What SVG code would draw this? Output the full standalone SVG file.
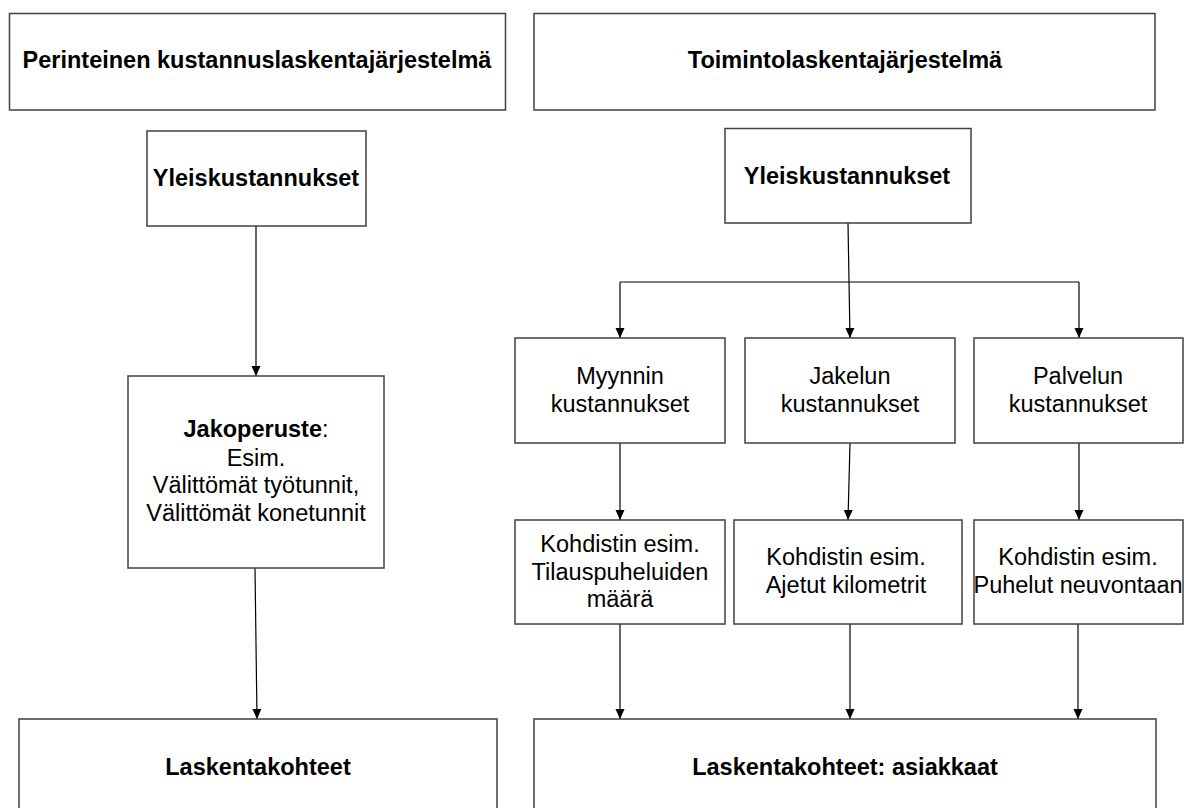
<svg xmlns="http://www.w3.org/2000/svg" width="1184" height="808" viewBox="0 0 1184 808">
<style>
  .box { fill: #ffffff; stroke: #404040; stroke-width: 1.5; }
  .t { font-family: "Liberation Sans", Arial, sans-serif; font-size: 23.5px; fill: #000; text-anchor: middle; }
  .b { font-weight: bold; }
  .c { fill: none; stroke: #000; stroke-width: 1.2; }
</style>
<defs>
  <marker id="arr" markerUnits="userSpaceOnUse" markerWidth="10" markerHeight="10" refX="10" refY="5" orient="auto">
    <path d="M0,0.5 L10,5 L0,9.5 z" fill="#000"/>
  </marker>
</defs>
<rect width="1184" height="808" fill="#ffffff"/>

<g id="connectors">
  <path class="c" d="M256,226 L256,376" marker-end="url(#arr)"/>
  <path class="c" d="M255,568 L257,719" marker-end="url(#arr)"/>
  <path class="c" d="M848,223 L850,338" marker-end="url(#arr)"/>
  <path class="c" d="M620,282 L1079,282"/>
  <path class="c" d="M620,282 L620,338" marker-end="url(#arr)"/>
  <path class="c" d="M1079,282 L1079,338" marker-end="url(#arr)"/>
  <path class="c" d="M620,443 L620,520" marker-end="url(#arr)"/>
  <path class="c" d="M850,443 L848,520" marker-end="url(#arr)"/>
  <path class="c" d="M1079,443 L1079,520" marker-end="url(#arr)"/>
  <path class="c" d="M620,624 L620,719" marker-end="url(#arr)"/>
  <path class="c" d="M850,624 L850,719" marker-end="url(#arr)"/>
  <path class="c" d="M1078,624 L1078,719" marker-end="url(#arr)"/>
</g>

<g id="title-left">
  <rect class="box" x="9.5" y="13.5" width="496" height="96.5"/>
  <text class="t b" x="257" y="68">Perinteinen kustannuslaskentajärjestelmä</text>
</g>
<g id="title-right">
  <rect class="box" x="534" y="13.5" width="621" height="96.5"/>
  <text class="t b" x="845" y="68">Toimintolaskentajärjestelmä</text>
</g>

<g id="yleis-left">
  <rect class="box" x="147" y="131" width="219" height="95"/>
  <text class="t b" x="256" y="186">Yleiskustannukset</text>
</g>
<g id="yleis-right">
  <rect class="box" x="725" y="128.5" width="246" height="94.5"/>
  <text class="t b" x="847" y="184">Yleiskustannukset</text>
</g>

<g id="jakoperuste">
  <rect class="box" x="128" y="376" width="256" height="192"/>
  <text class="t" x="256" y="437"><tspan font-weight="bold">Jakoperuste</tspan>:</text>
  <text class="t" x="256" y="466">Esim.</text>
  <text class="t" x="256" y="493">Välittömät työtunnit,</text>
  <text class="t" x="256" y="521">Välittömät konetunnit</text>
</g>

<g id="myynnin">
  <rect class="box" x="515" y="338" width="210" height="105"/>
  <text class="t" x="620" y="384">Myynnin</text>
  <text class="t" x="620" y="412">kustannukset</text>
</g>
<g id="jakelun">
  <rect class="box" x="745" y="338" width="210" height="105"/>
  <text class="t" x="850" y="384">Jakelun</text>
  <text class="t" x="850" y="412">kustannukset</text>
</g>
<g id="palvelun">
  <rect class="box" x="974" y="338" width="209" height="105"/>
  <text class="t" x="1078" y="384">Palvelun</text>
  <text class="t" x="1078" y="412">kustannukset</text>
</g>

<g id="kohdistin-myynti">
  <rect class="box" x="515" y="520" width="210" height="104"/>
  <text class="t" x="620" y="552">Kohdistin esim.</text>
  <text class="t" x="620" y="580">Tilauspuheluiden</text>
  <text class="t" x="620" y="607">määrä</text>
</g>
<g id="kohdistin-jakelu">
  <rect class="box" x="734" y="520" width="228" height="104"/>
  <text class="t" x="846" y="565">Kohdistin esim.</text>
  <text class="t" x="846" y="593">Ajetut kilometrit</text>
</g>
<g id="kohdistin-palvelu">
  <rect class="box" x="974" y="520" width="209" height="104"/>
  <text class="t" x="1078" y="565">Kohdistin esim.</text>
  <text class="t" x="1078" y="593">Puhelut neuvontaan</text>
</g>

<g id="laskenta-left">
  <rect class="box" x="19" y="719" width="478" height="110"/>
  <text class="t b" x="258" y="775">Laskentakohteet</text>
</g>
<g id="laskenta-right">
  <rect class="box" x="534" y="719" width="622" height="110"/>
  <text class="t b" x="845" y="775">Laskentakohteet: asiakkaat</text>
</g>
</svg>
